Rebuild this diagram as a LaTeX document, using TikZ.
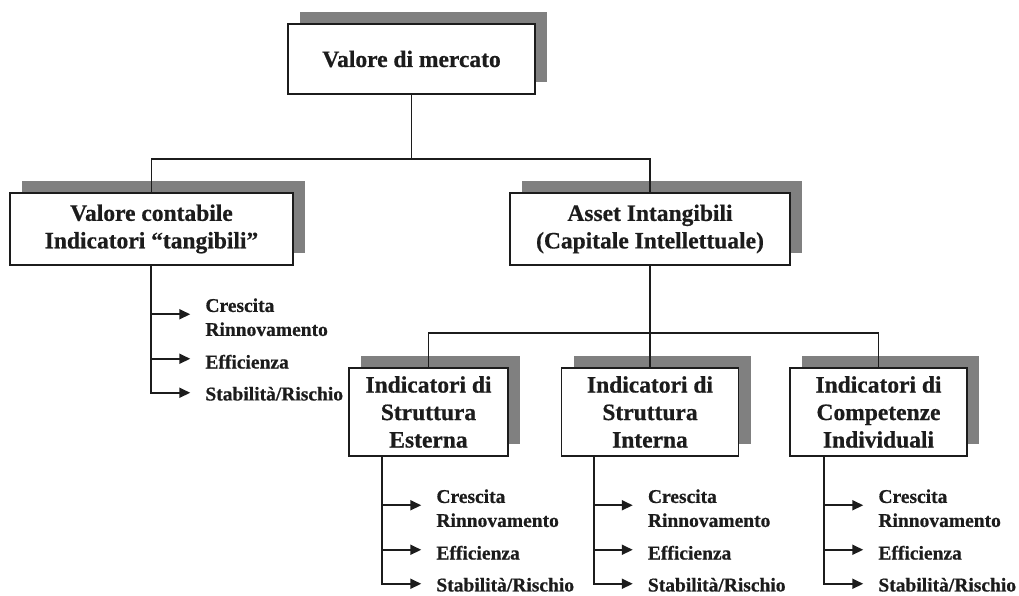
\documentclass[tikz,border=0pt]{standalone}
\usepackage{fontspec}
\setmainfont{Liberation Serif}[BoldFeatures={FakeBold=0.6}]
\usetikzlibrary{calc,shadows,arrows.meta}
\definecolor{shadowgray}{HTML}{808080}
\definecolor{ink}{HTML}{1C1C1C}
\begin{document}
\begin{tikzpicture}[x=1pt,y=-1pt,
  box/.style={draw=ink, line width=1.5pt, fill=white, inner sep=0pt, align=center,
    font=\bfseries\fontsize{23.5}{27.5}\selectfont, text=ink,
    drop shadow={shadow xshift=12pt, shadow yshift=12pt, fill=shadowgray, opacity=1}},
  conn/.style={draw=ink, line width=1.4pt},
  leg/.style={draw=ink, line width=2pt},
  arr/.style={leg, -{Triangle[length=11pt,width=10pt]}},
  item/.style={anchor=west, inner sep=0pt, align=left,
    font=\bfseries\fontsize{19.5}{24}\selectfont, text=ink}
]
\useasboundingbox (0,0) rectangle (1019,595);

% boxes
\node[box, minimum width=247pt, minimum height=70pt] (mkt) at (411.5,59) {Valore di mercato};
\node[box, minimum width=283pt, minimum height=72pt] (vc) at (151.5,229) {Valore contabile\\Indicatori “tangibili”};
\node[box, minimum width=280pt, minimum height=72pt] (ai) at (650,229) {Asset Intangibili\\(Capitale Intellettuale)};
\node[box, minimum width=159pt, minimum height=88pt] (ise) at (428.5,412) {Indicatori di\\Struttura\\Esterna};
\node[box, minimum width=177pt, minimum height=88pt] (isi) at (650,412) {Indicatori di\\Struttura\\Interna};
\node[box, minimum width=177pt, minimum height=88pt] (ici) at (878.5,412) {Indicatori di\\Competenze\\Individuali};

% tree connectors
\coordinate (bus1) at (0,159);
\coordinate (bus2) at (0,333);
\draw[conn] (mkt.south) -- (mkt.south |- bus1);
\draw[conn] (vc.north) -- (vc.north |- bus1) -- (ai.north |- bus1) -- (ai.north);
\draw[conn] (ai.south) -- (isi.north);
\draw[conn] (ise.north) -- (ise.north |- bus2) -- (ici.north |- bus2) -- (ici.north);

% indicator lists under each box
\foreach \b/\dx in {vc/142, ise/34, isi/33, ici/35} {
  \coordinate (\b-top) at ($(\b.south west)+(\dx,0)$);
  \coordinate (\b-a1) at ($(\b-top)+(0,48.5)$);
  \coordinate (\b-a2) at ($(\b-top)+(0,93)$);
  \coordinate (\b-a3) at ($(\b-top)+(0,127)$);
  \coordinate (\b-e1) at ($(\b-a1)+(39,0)$);
  \coordinate (\b-e2) at ($(\b-a2)+(39,0)$);
  \coordinate (\b-e3) at ($(\b-a3)+(39,0)$);
  \draw[arr] (\b-top) |- (\b-e3);
  \draw[arr] (\b-a1) -- (\b-e1);
  \draw[arr] (\b-a2) -- (\b-e2);
  \node[item] (\b-t1) at ($(\b-e1)+(15,3)$) {Crescita\\Rinnovamento};
  \node[item] (\b-t2) at ($(\b-e2)+(15,3)$) {Efficienza};
  \node[item] (\b-t3) at ($(\b-e3)+(15,1)$) {Stabilità/Rischio};
}
\end{tikzpicture}
\end{document}
